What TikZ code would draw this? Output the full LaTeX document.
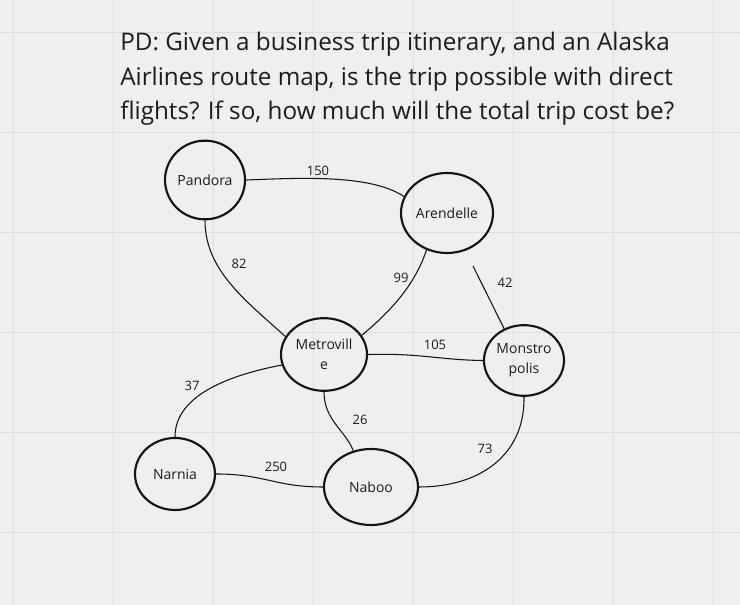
\documentclass[tikz,border=0pt]{standalone}
\usepackage{fontspec}
\setmainfont{Open Sans}
\usetikzlibrary{shapes.geometric}
\definecolor{bgcol}{RGB}{239,239,239}
\definecolor{gridcol}{RGB}{222,222,222}
\definecolor{inkcol}{RGB}{20,20,20}
\definecolor{txtcol}{RGB}{28,28,28}
\tikzset{
  city/.style={ellipse, draw=inkcol, line width=1.6pt, inner sep=0pt, align=center,
    font=\fontsize{10.5}{15}\selectfont, text=txtcol},
  route/.style={draw=inkcol, line width=0.8pt},
  cost/.style={inner sep=0pt, font=\fontsize{9.75}{12}\selectfont, text=txtcol},
  titleline/.style={anchor=base west, inner sep=0pt, font=\fontsize{18.2}{25}\selectfont, text=txtcol}
}
\begin{document}
\begin{tikzpicture}[x=0.75pt, y=-0.75pt]
\fill[bgcol] (0,0) rectangle (740,605);
\useasboundingbox (0,0) rectangle (740,605);
\foreach \gx in {13,113,...,713} \draw[gridcol, line width=0.75pt] (\gx,0) -- (\gx,605);
\foreach \gy in {33,133,...,533} \draw[gridcol, line width=0.75pt] (0,\gy) -- (740,\gy);

\node[titleline] (t1) at (120,51) {PD: Given a business trip itinerary, and an Alaska};
\node[titleline] (t2) at (120,85.5) {Airlines route map, is the trip possible with direct};
\node[titleline] (t3) at (120,120) {flights? If so, how much will the total trip cost be?};

\node[city, minimum width=60pt, minimum height=59pt] (pandora) at (205,180) {Pandora};
\node[city, minimum width=69pt, minimum height=60pt] (arendelle) at (447,213) {Arendelle};
\node[city, minimum width=64.5pt, minimum height=54.5pt] (metroville) at (324,354.5) {Metrovill\\e};
\node[city, minimum width=60pt, minimum height=53pt] (monstropolis) at (524,360.5) {Monstro\\polis};
\node[city, minimum width=60pt, minimum height=54pt] (narnia) at (175,474) {Narnia};
\node[city, minimum width=70.5pt, minimum height=57pt] (naboo) at (371,487) {Naboo};

\coordinate (free42) at (473,266);

\draw[route] (pandora.east) .. controls (300,178) and (370,174) .. (arendelle.159);
\draw[route] (pandora.south) .. controls (205,270) and (245,300) .. (metroville.155);
\draw[route] (arendelle.241) .. controls (415,285) and (390,312) .. (metroville.27);
\draw[route] (free42) -- (monstropolis.122);
\draw[route] (metroville.east) .. controls (420,353) and (440,360) .. (monstropolis.west);
\draw[route] (metroville.194) .. controls (230,375) and (175,395) .. (narnia.north);
\draw[route] (metroville.south) .. controls (324,420) and (345,430) .. (naboo.116);
\draw[route] (monstropolis.south) .. controls (525,455) and (480,487) .. (naboo.east);
\draw[route] (narnia.east) .. controls (265,474) and (275,487) .. (naboo.west);

\node[cost] (c150) at (318,171) {150};
\node[cost] (c82) at (239,264) {82};
\node[cost] (c99) at (401,278) {99};
\node[cost] (c42) at (505,283) {42};
\node[cost] (c105) at (435,345) {105};
\node[cost] (c37) at (192,386) {37};
\node[cost] (c26) at (360,420) {26};
\node[cost] (c73) at (485,449) {73};
\node[cost] (c250) at (276,467) {250};
\end{tikzpicture}
\end{document}
